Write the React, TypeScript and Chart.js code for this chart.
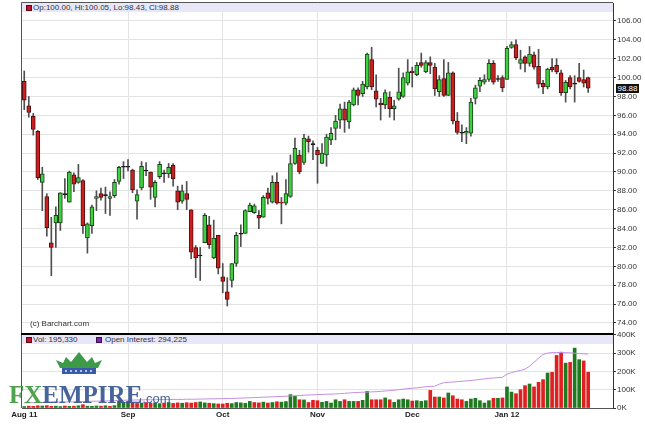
import React, { useEffect, useRef } from 'react';
import { Chart, registerables } from 'chart.js';

Chart.register(...registerables);

// ---- Data (Aug 1 2011 .. late Jan 2012, daily) ----
const opens = [
  99.6, 97.0, 95.9, 94.3, 88.9, 87.4, 82.5, 84.6, 84.6, 87.6,
  86.8, 89.7, 88.9, 89.1, 83.0, 84.3, 87.2, 87.7, 87.5, 87.2,
  87.5, 89.0, 90.5, 90.5, 90.2, 86.9, 88.3, 90.1, 90.0, 87.3,
  89.5, 89.8, 89.8, 90.7, 88.0, 86.9, 87.7, 86.0, 82.0, 81.1,
  82.5, 84.4, 80.9, 83.3, 78.9, 77.3, 78.5, 80.3, 83.4, 83.5,
  85.8, 85.7, 85.4, 85.2, 87.8, 86.8, 88.9, 86.8, 86.7, 87.4,
  90.9, 91.8, 91.0, 93.5, 92.9, 92.3, 90.9, 91.8, 93.4, 94.6,
  95.5, 96.7, 95.3, 97.1, 98.7, 98.3, 99.0, 101.9, 98.6, 97.3,
  97.1, 97.9, 96.7, 97.7, 98.0, 99.4, 100.7, 100.3, 101.6, 100.6,
  101.6, 101.1, 98.5, 99.9, 98.1, 100.5, 95.4, 94.1, 94.1, 94.1,
  97.8, 99.1, 99.5, 99.8, 101.5, 99.8, 100.0, 99.8, 103.2, 103.5,
  101.5, 102.2, 101.5, 102.4, 101.2, 99.4, 99.0, 101.1, 101.3, 100.5,
  98.4, 100.0, 99.3, 100.0, 99.8, 100.0,
];
const highs = [
  100.7, 98.0, 96.2, 94.4, 90.5, 87.7, 85.2, 86.3, 87.8, 89.3,
  90.1, 89.9, 90.8, 89.2, 84.6, 86.5, 88.0, 88.3, 88.4, 87.9,
  89.2, 90.6, 91.1, 91.3, 90.3, 88.1, 91.1, 91.0, 90.0, 89.1,
  91.1, 90.2, 90.9, 90.9, 88.5, 88.6, 89.0, 86.0, 82.2, 82.0,
  85.6, 85.3, 84.9, 83.3, 80.3, 78.8, 80.3, 83.6, 84.4, 86.0,
  86.7, 86.6, 85.9, 87.5, 88.3, 89.6, 89.9, 87.3, 89.2, 91.8,
  93.6, 92.3, 94.0, 93.8, 93.3, 92.6, 93.0, 94.0, 94.7, 96.0,
  97.2, 97.4, 97.6, 98.9, 98.9, 99.6, 102.6, 103.2, 100.3, 97.8,
  98.7, 98.5, 97.6, 101.0, 100.5, 101.9, 101.1, 101.6, 102.6, 101.8,
  102.2, 101.5, 100.2, 101.9, 101.6, 100.6, 96.3, 95.0, 94.7, 97.8,
  99.2, 100.0, 100.3, 101.9, 101.8, 100.2, 100.2, 103.3, 103.8, 104.0,
  102.9, 102.3, 103.3, 102.7, 103.0, 99.7, 101.0, 102.0, 102.0, 100.8,
  99.7, 100.2, 100.2, 101.5, 100.8, 100.05,
];
const lows = [
  96.6, 95.8, 93.9, 89.2, 85.9, 83.2, 79.0, 82.0, 83.8, 87.2,
  86.8, 87.9, 88.8, 83.5, 81.4, 83.5, 85.9, 87.0, 85.6, 85.4,
  87.3, 88.7, 89.3, 90.1, 87.8, 85.0, 88.1, 89.6, 87.1, 86.3,
  89.3, 88.9, 89.4, 88.5, 86.0, 86.7, 86.0, 80.8, 78.8, 78.5,
  82.5, 81.9, 80.8, 79.2, 77.2, 75.8, 77.8, 80.0, 82.1, 83.5,
  85.8, 85.6, 84.0, 85.2, 86.6, 86.7, 86.6, 84.5, 86.5, 87.3,
  90.8, 89.8, 90.8, 92.1, 91.3, 88.8, 90.9, 90.6, 92.9, 93.4,
  94.6, 94.2, 94.6, 97.0, 97.1, 98.0, 98.8, 98.7, 96.9, 95.5,
  96.7, 95.8, 95.5, 97.6, 97.9, 99.2, 99.0, 100.2, 101.1, 100.5,
  100.4, 98.1, 98.0, 98.0, 98.1, 95.1, 94.0, 93.2, 93.0, 93.8,
  97.2, 98.5, 99.3, 99.6, 99.3, 99.6, 98.5, 99.8, 103.1, 101.9,
  100.9, 100.6, 101.2, 100.9, 98.9, 98.3, 98.8, 100.6, 100.4, 98.1,
  97.4, 98.8, 97.4, 99.5, 99.0, 98.43,
];
const closes = [
  97.6, 96.3, 94.5, 89.4, 89.8, 84.1, 82.0, 85.4, 87.8, 87.6,
  90.0, 88.7, 89.4, 84.3, 84.5, 86.3, 87.4, 87.3, 87.5, 87.4,
  88.9, 90.5, 90.5, 90.5, 88.1, 87.6, 90.6, 90.1, 88.4, 88.9,
  90.8, 89.8, 90.5, 89.3, 86.8, 88.0, 87.1, 81.5, 80.9, 81.1,
  85.4, 82.3, 83.0, 79.8, 78.4, 76.5, 80.3, 83.3, 83.4, 85.9,
  86.5, 86.4, 85.1, 87.3, 87.2, 88.9, 86.7, 86.7, 87.7, 90.9,
  92.5, 90.0, 93.6, 93.2, 92.9, 91.8, 92.0, 93.7, 94.1, 95.4,
  96.7, 95.5, 97.4, 98.7, 98.1, 99.3, 102.5, 99.0, 97.7, 97.1,
  98.4, 96.7, 97.0, 98.5, 100.0, 100.6, 100.5, 101.3, 101.3, 101.6,
  101.3, 98.8, 99.8, 98.1, 100.5, 95.4, 94.2, 94.1, 94.3, 97.4,
  98.9, 99.7, 99.8, 101.5, 99.5, 99.8, 98.9, 103.1, 103.5, 102.1,
  101.9, 101.5, 102.5, 101.1, 99.3, 99.0, 100.9, 100.8, 100.6, 98.4,
  99.5, 99.0, 99.3, 99.6, 99.4, 98.88,
];
// volume, thousands of contracts
const volumes = [
  8, 10, 9, 12, 11, 13, 9, 10, 8, 11, 9, 10, 12, 18, 10, 9, 11, 10, 12, 9, 13, 42, 30,
  36, 28, 25, 27, 30, 26, 28, 24, 27, 30, 25, 28, 26, 29, 27, 30, 33, 28, 26, 24, 22,
  22, 26, 24, 30, 28, 25, 36, 30, 28, 32, 27, 30, 34, 32, 35, 73, 64, 45, 44, 30, 42,
  40, 31, 36, 27, 45, 36, 45, 36, 36, 36, 42, 91, 45, 45, 45, 55, 45, 31, 45, 49, 45,
  38, 40, 36, 40, 96, 60, 60, 55, 82, 67, 49, 45, 36, 49, 53, 40, 27, 40, 53, 53, 55,
  115, 87, 78, 100, 122, 131, 115, 140, 155, 191, 195, 287, 305, 245, 249, 327, 264, 257, 195.33,
];
// open interest, thousands of contracts
const openInterest = [
  28, 29, 29, 30, 30, 31, 31, 32, 33, 33, 34, 34, 35, 35, 36, 37, 37, 38, 38, 39, 40, 41, 42,
  43, 43, 44, 44, 45, 45, 45, 46, 46, 46, 47, 47, 47, 48, 48, 48, 49, 49, 50, 50, 51,
  51, 52, 52, 53, 54, 55, 56, 57, 58, 59, 60, 61, 62, 63, 64, 66, 67, 68, 70, 71, 72,
  73, 74, 75, 76, 77, 78, 80, 82, 84, 85, 86, 87, 88, 89, 91, 93, 95, 97, 100, 103, 106,
  108, 110, 113, 116, 118, 119, 130, 138, 140, 142, 144, 146, 148, 150, 153, 156, 159, 162, 164, 166, 168,
  185, 193, 200, 205, 212, 228, 250, 272, 292, 300, 302, 303, 303, 302, 301, 299, 297, 296, 294.225,
];
const monthStartIdx = [0, 23, 44, 65, 86, 107];
const monthLabels = ['Aug 11', 'Sep', 'Oct', 'Nov', 'Dec', 'Jan 12'];
const priceTicks = [74, 76, 78, 80, 82, 84, 86, 88, 90, 92, 94, 96, 98, 100, 102, 104, 106];
const volumeTicks = [0, 100, 200, 300, 400];
const totalSlots = 131;

const FONT = "'Liberation Sans', Arial, sans-serif";
const GRID = '#e3e3e3';
const slotLabels = Array.from({ length: totalSlots }, (_, i) => String(i));

const monthGridColor = (ctx: any) =>
  monthStartIdx.indexOf(ctx.index) > 0 ? GRID : 'rgba(0,0,0,0)';

export default function App() {
  const priceRef = useRef<HTMLCanvasElement>(null);
  const volRef = useRef<HTMLCanvasElement>(null);

  useEffect(() => {
    const bodyFill = opens.map((o, i) =>
      Math.abs(closes[i] - o) < 0.05 ? '#111' : closes[i] > o ? '#3dd13d' : '#cc1f1f'
    );
    const bodyBorder = opens.map((o, i) =>
      Math.abs(closes[i] - o) < 0.05 ? '#111' : closes[i] > o ? '#1d3d1d' : '#4a1010'
    );
    const volColors = volumes.map((_, i) =>
      i === 0 || closes[i] >= closes[i - 1] ? '#1f7a1f' : '#e02020'
    );

    const priceFrame = {
      id: 'priceFrame',
      afterDatasetsDraw(chart: any) {
        const { ctx, chartArea } = chart;
        ctx.save();
        ctx.strokeStyle = '#555';
        ctx.lineWidth = 1;
        ctx.beginPath();
        ctx.moveTo(chartArea.left - 0.5, chartArea.bottom + 1);
        ctx.lineTo(chartArea.left - 0.5, chartArea.top - 0.5);
        ctx.lineTo(chartArea.right, chartArea.top - 0.5);
        ctx.stroke();
        ctx.restore();
      },
    };
    const volFrame = {
      id: 'volFrame',
      afterDatasetsDraw(chart: any) {
        const { ctx, chartArea } = chart;
        ctx.save();
        ctx.strokeStyle = '#555';
        ctx.lineWidth = 1;
        ctx.beginPath();
        ctx.moveTo(chartArea.left - 0.5, chartArea.bottom);
        ctx.lineTo(chartArea.left - 0.5, chartArea.top);
        ctx.stroke();
        ctx.fillStyle = '#000';
        ctx.fillRect(chartArea.left - 1, chartArea.top - 1, chartArea.right - chartArea.left + 1, 2);
        ctx.restore();
      },
    };

    const priceChart = new Chart(priceRef.current as HTMLCanvasElement, {
      type: 'bar',
      data: {
        labels: slotLabels,
        datasets: [
          {
            label: 'body',
            data: opens.map((o, i) => [o, closes[i]]) as any,
            backgroundColor: bodyFill,
            borderColor: bodyBorder,
            borderWidth: 1,
            borderSkipped: false,
            barThickness: 4,
            minBarLength: 1,
            grouped: false,
          } as any,
          {
            label: 'wick',
            data: lows.map((l, i) => [l, highs[i]]) as any,
            backgroundColor: '#505050',
            borderWidth: 0,
            barThickness: 1,
            grouped: false,
          } as any,
        ],
      },
      options: {
        animation: false,
        responsive: false,
        events: [],
        layout: { padding: { left: 22, top: 3, right: 0, bottom: 0 } },
        plugins: { legend: { display: false }, tooltip: { enabled: false } },
        scales: {
          x: {
            offset: true,
            grid: { offset: false, color: monthGridColor, drawTicks: false },
            border: { display: false },
            ticks: { display: false, autoSkip: false },
            afterFit: (s: any) => {
              s.height = 1;
              s.paddingLeft = 0;
              s.paddingRight = 0;
            },
          },
          y: {
            position: 'right',
            min: 72.94,
            max: 107.9,
            afterBuildTicks: (s: any) => {
              s.ticks = priceTicks.map((v) => ({ value: v }));
            },
            grid: { color: GRID, tickColor: '#333', tickLength: 3 },
            border: { color: '#333' },
            ticks: {
              color: '#333',
              padding: 1,
              font: { family: FONT, size: 8 },
              callback: (v: any) => Number(v).toFixed(2),
            },
            afterFit: (s: any) => {
              s.width = 32;
              s.paddingTop = 0;
              s.paddingBottom = 0;
            },
          },
        },
      } as any,
      plugins: [priceFrame],
    });

    const volChart = new Chart(volRef.current as HTMLCanvasElement, {
      type: 'bar',
      data: {
        labels: slotLabels,
        datasets: [
          {
            type: 'line',
            label: 'Open Interest',
            data: openInterest,
            borderColor: '#c58ee0',
            borderWidth: 1,
            pointRadius: 0,
            tension: 0,
          } as any,
          {
            type: 'bar',
            label: 'Vol',
            data: volumes,
            backgroundColor: volColors,
            borderWidth: 0,
            barThickness: 3,
            grouped: false,
          } as any,
        ],
      },
      options: {
        animation: false,
        responsive: false,
        events: [],
        layout: { padding: { left: 22, top: 6, right: 0, bottom: 0 } },
        plugins: { legend: { display: false }, tooltip: { enabled: false } },
        scales: {
          x: {
            offset: true,
            grid: { offset: false, color: monthGridColor, drawTicks: false },
            border: { display: true, color: '#555' },
            ticks: {
              autoSkip: false,
              maxRotation: 0,
              padding: 2,
              color: '#222',
              font: { family: FONT, size: 8, weight: 'bold' },
              callback: (_v: any, i: number) => {
                const k = monthStartIdx.indexOf(i);
                return k >= 0 ? monthLabels[k] : '';
              },
            },
            afterFit: (s: any) => {
              s.height = 19;
              s.paddingLeft = 0;
              s.paddingRight = 0;
            },
          },
          y: {
            position: 'right',
            min: 0,
            max: 404,
            afterBuildTicks: (s: any) => {
              s.ticks = volumeTicks.map((v) => ({ value: v }));
            },
            grid: { color: GRID, tickColor: '#333', tickLength: 3 },
            border: { color: '#333' },
            ticks: {
              color: '#333',
              padding: 1,
              font: { family: FONT, size: 8 },
              callback: (v: any) => `${v}K`,
            },
            afterFit: (s: any) => {
              s.width = 32;
              s.paddingTop = 0;
              s.paddingBottom = 0;
            },
          },
        },
      } as any,
      plugins: [volFrame],
    });

    return () => {
      priceChart.destroy();
      volChart.destroy();
    };
  }, []);

  const n = opens.length - 1;
  const headerText = `Op:${opens[n].toFixed(2)}, Hi:${highs[n].toFixed(2)}, Lo:${lows[n].toFixed(2)}, Cl:${closes[n].toFixed(2)}`;
  const volText = `Vol: ${Math.round(volumes[n] * 1000).toLocaleString('en-US')}`;
  const oiText = `Open Interest: ${Math.round(openInterest[n] * 1000).toLocaleString('en-US')}`;
  const lastTop = 3 + ((107.9 - closes[n]) / (107.9 - 72.94)) * 330 - 4.5;

  const small: React.CSSProperties = {
    position: 'absolute',
    fontFamily: FONT,
    fontSize: 8,
    lineHeight: '8px',
    color: '#333',
    whiteSpace: 'nowrap',
  };

  return (
    <div style={{ position: 'fixed', left: 0, top: 0, width: 645, height: 427, background: '#fff', overflow: 'hidden' }}>
      <canvas ref={priceRef} width={645} height={334} style={{ position: 'absolute', left: 0, top: 0 }} />
      <canvas ref={volRef} width={645} height={99} style={{ position: 'absolute', left: 0, top: 328 }} />

      {/* price header band */}
      <div style={{ position: 'absolute', left: 22, top: 3, width: 591, height: 9, background: '#e7e7f8' }} />
      <div style={{ position: 'absolute', left: 26, top: 5, width: 4, height: 4, background: '#c8102e', border: '1px solid #5a0a14' }} />
      <div style={{ ...small, left: 33, top: 4 }}>{headerText}</div>

      {/* last price marker */}
      <div
        style={{
          ...small,
          left: 616,
          top: lastTop,
          width: 23,
          height: 9,
          lineHeight: '9px',
          background: '#111',
          color: '#fff',
          textAlign: 'center',
        }}
      >
        {closes[n].toFixed(2)}
      </div>

      <div style={{ ...small, left: 30, top: 320 }}>(c) Barchart.com</div>

      {/* volume header band */}
      <div style={{ position: 'absolute', left: 22, top: 335, width: 591, height: 9, background: '#e7e7f8' }} />
      <div style={{ position: 'absolute', left: 26, top: 337, width: 4, height: 4, background: '#c8102e', border: '1px solid #5a0a14' }} />
      <div style={{ ...small, left: 33, top: 336 }}>{volText}</div>
      <div style={{ position: 'absolute', left: 96, top: 337, width: 4, height: 4, background: '#7a2aa8', border: '1px solid #3a1050' }} />
      <div style={{ ...small, left: 105, top: 336 }}>{oiText}</div>

      {/* FXEMPIRE watermark */}
      <svg width={50} height={26} viewBox="0 0 50 26" style={{ position: 'absolute', left: 54, top: 351 }}>
        <path
          d="M6 17 L2 9 L9 12 L12 6 L17 11 L25 1 L33 11 L38 6 L41 12 L48 9 L44 17 Z"
          fill="#3c9a48"
        />
        <rect x={8} y={17} width={34} height={6} fill="#3a5ca8" />
        {[12, 17, 22, 27, 32, 37].map((cx) => (
          <circle key={cx} cx={cx} cy={20} r={1} fill="#dfe8ff" />
        ))}
      </svg>
      <div
        style={{
          position: 'absolute',
          left: 9,
          top: 382,
          fontFamily: "'Liberation Serif', 'Times New Roman', serif",
          fontSize: 25,
          lineHeight: '25px',
          fontWeight: 'bold',
          whiteSpace: 'nowrap',
          opacity: 0.9,
        }}
      >
        <span style={{ color: '#3c9a3c' }}>FX</span>
        <span style={{ color: '#34558f' }}>EMPIRE</span>
        <span style={{ color: '#34558f', fontFamily: FONT, fontSize: 13, fontWeight: 'normal' }}>.com</span>
      </div>
    </div>
  );
}
